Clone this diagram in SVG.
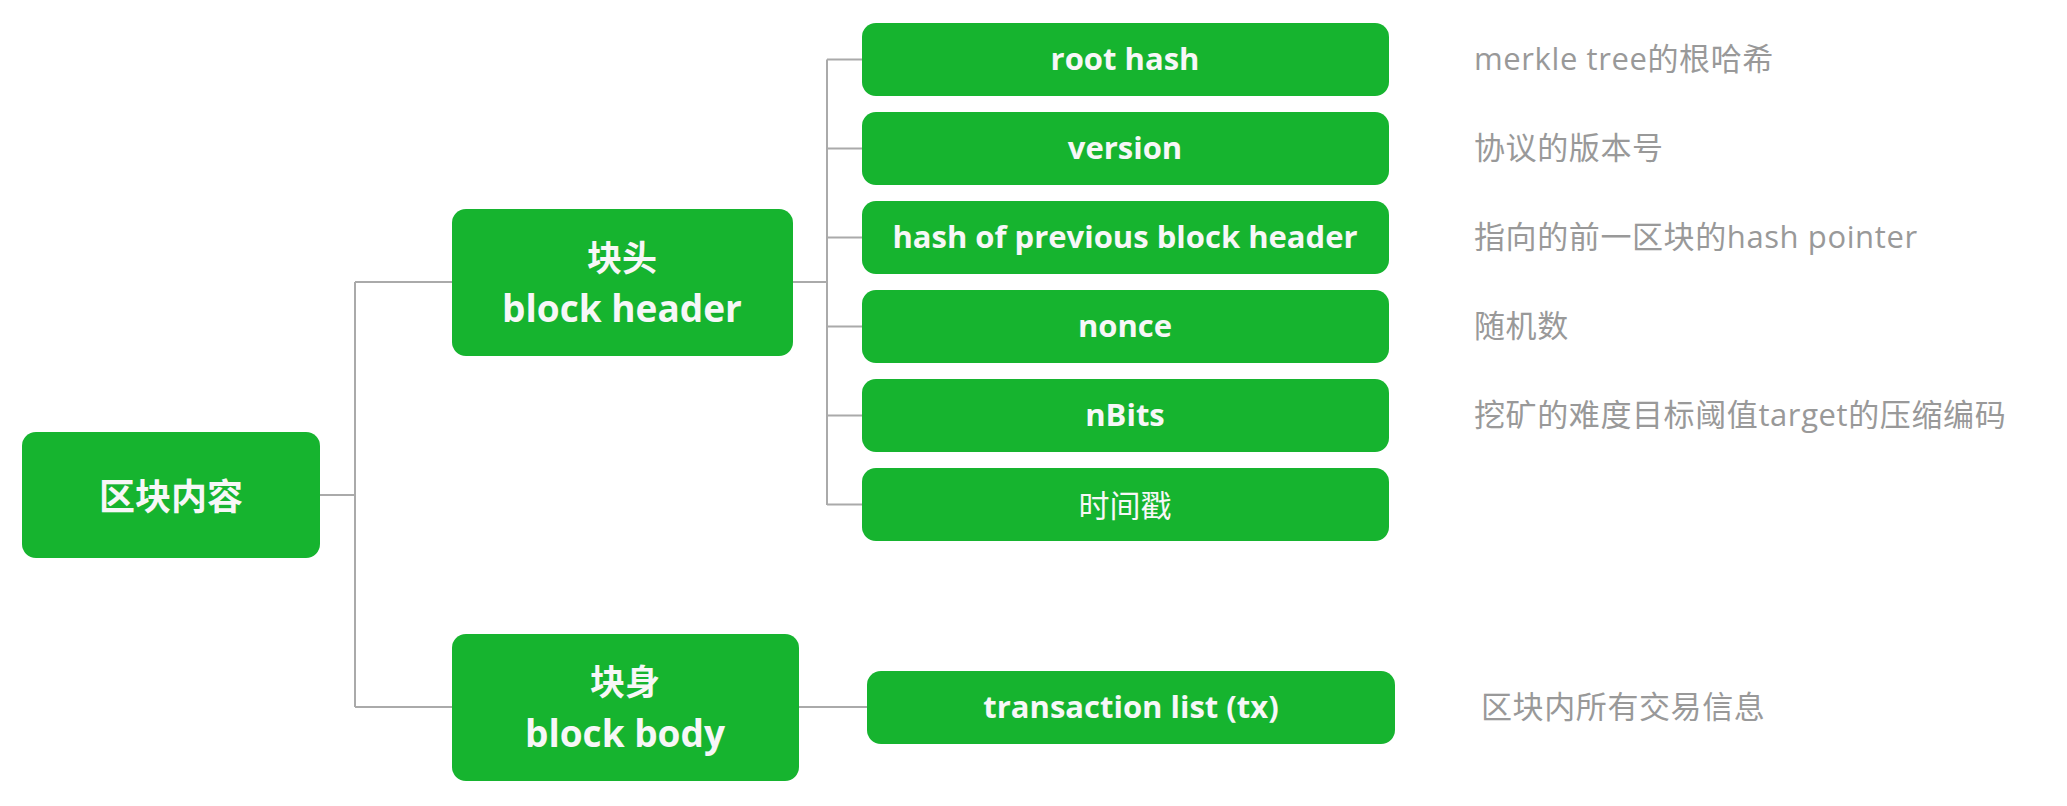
<svg xmlns="http://www.w3.org/2000/svg" width="2067" height="806" viewBox="0 0 2067 806">
<style>
.n{fill:#16b42f}
.t{fill:#f7f7f7;font-family:"Open Sans","Noto Sans CJK SC",sans-serif;font-weight:700;text-anchor:middle;dominant-baseline:central}
.big{font-size:37px}
.mid{font-size:31px}
.cjk{font-family:"Noto Sans CJK SC",sans-serif}
.reg{font-weight:400}
.d{fill:#999999;font-family:"Open Sans","Noto Sans CJK SC",sans-serif;font-size:31px;letter-spacing:0.6px;dominant-baseline:central}
.c{fill:none;stroke:#aaaaaa;stroke-width:2}
</style>
<rect width="2067" height="806" fill="#ffffff"/>
<g id="connectors" class="c">
<path d="M320 495H355M355 282V707M355 282H452M355 707H452"/>
<path d="M793 282H827M827 59.5V505M827 59.5H862M827 148.5H862M827 237.5H862M827 326.5H862M827 415.5H862M827 504.5H862"/>
<path d="M799 707H867"/>
</g>
<g id="root"><rect class="n" x="22" y="432" width="298" height="126" rx="14"/><text class="t cjk" style="font-size:36px" x="171" y="494">区块内容</text></g>
<g id="header"><rect class="n" x="452" y="209" width="341" height="147" rx="14"/><text class="t cjk" style="font-size:35px" x="622" y="255">块头</text><text class="t big" x="622" y="307">block header</text></g>
<g id="body"><rect class="n" x="452" y="634" width="347" height="147" rx="14"/><text class="t cjk" style="font-size:35px" x="625" y="679">块身</text><text class="t big" x="625" y="732">block body</text></g>
<g id="roothash"><rect class="n" x="862" y="23" width="527" height="73" rx="14"/><text class="t mid" x="1125" y="57.5">root hash</text></g>
<g id="version"><rect class="n" x="862" y="112" width="527" height="73" rx="14"/><text class="t mid" x="1125" y="146.5">version</text></g>
<g id="prevhash"><rect class="n" x="862" y="201" width="527" height="73" rx="14"/><text class="t mid" x="1125" y="235.5">hash of previous block header</text></g>
<g id="nonce"><rect class="n" x="862" y="290" width="527" height="73" rx="14"/><text class="t mid" x="1125" y="324.5">nonce</text></g>
<g id="nbits"><rect class="n" x="862" y="379" width="527" height="73" rx="14"/><text class="t mid" x="1125" y="413.5">nBits</text></g>
<g id="timestamp"><rect class="n" x="862" y="468" width="527" height="73" rx="14"/><text class="t mid cjk reg" x="1125" y="503">时间戳</text></g>
<g id="txlist"><rect class="n" x="867" y="671" width="528" height="73" rx="14"/><text class="t mid" x="1131" y="705.5">transaction list (tx)</text></g>
<g id="descriptions">
<text class="d" x="1474" y="58">merkle tree的根哈希</text>
<text class="d" x="1474" y="147">协议的版本号</text>
<text class="d" x="1474" y="236">指向的前一区块的hash pointer</text>
<text class="d" x="1474" y="325">随机数</text>
<text class="d" x="1474" y="414">挖矿的难度目标阈值target的压缩编码</text>
<text class="d" x="1481" y="706">区块内所有交易信息</text>
</g>
</svg>
